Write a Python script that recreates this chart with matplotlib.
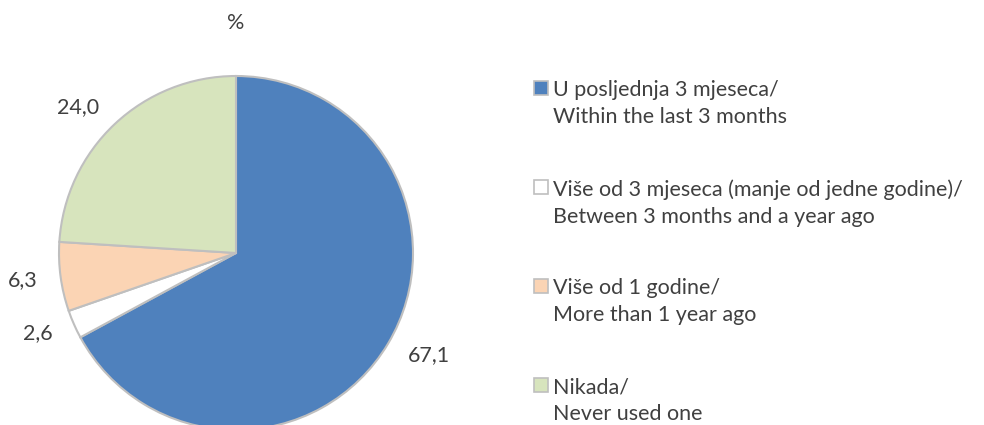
import matplotlib.pyplot as plt
from matplotlib.patches import Rectangle

plt.rcParams['font.family'] = ['Lato', 'DejaVu Sans']

# data
labels = ['U posljednja 3 mjeseca/\nWithin the last 3 months',
          'Više od 3 mjeseca (manje od jedne godine)/\nBetween 3 months and a year ago',
          'Više od 1 godine/\nMore than 1 year ago',
          'Nikada/\nNever used one']
values = [67.1, 2.6, 6.3, 24.0]
colors = ['#4F81BD', '#FFFFFF', '#FBD4B4', '#D7E4BD']
text_col = '#404040'
fs = 15.5

W, H = 984, 425
fig = plt.figure(figsize=(W / 100, H / 100), dpi=100)
ax = fig.add_axes([0, 0, 1, 1])

# pie in pixel coordinates (y up)
cx, cy, r = 236, H - 253, 177
wedges, texts = ax.pie(values, colors=colors, startangle=90, counterclock=False,
                       center=(cx, cy), radius=r,
                       labels=[f'{v:.1f}'.replace('.', ',') for v in values],
                       labeldistance=1.13,
                       wedgeprops=dict(edgecolor='#BFBFBF', linewidth=1.5),
                       textprops=dict(fontsize=fs, color=text_col))
# alignment relative to the pie centre
for t in texts:
    x, _ = t.get_position()
    t.set_ha('left' if x > cx else 'right')

ax.set_xlim(0, W)
ax.set_ylim(0, H)
ax.set_aspect('auto')
ax.axis('off')

ax.text(cx, H - 23, '%', ha='center', va='center', fontsize=fs, color=text_col)

# legend drawn by hand
leg_x, leg_y0, step = 534, 88, 99
for i, (lab, col) in enumerate(zip(labels, colors)):
    y = H - (leg_y0 + i * step)
    ax.add_patch(Rectangle((leg_x, y - 7), 14, 14, facecolor=col,
                           edgecolor='#BFBFBF', linewidth=1.2))
    ax.text(leg_x + 19, y + 8, lab, ha='left', va='top', fontsize=fs,
            color=text_col, linespacing=1.45)

fig.savefig('out.png', dpi=100)
